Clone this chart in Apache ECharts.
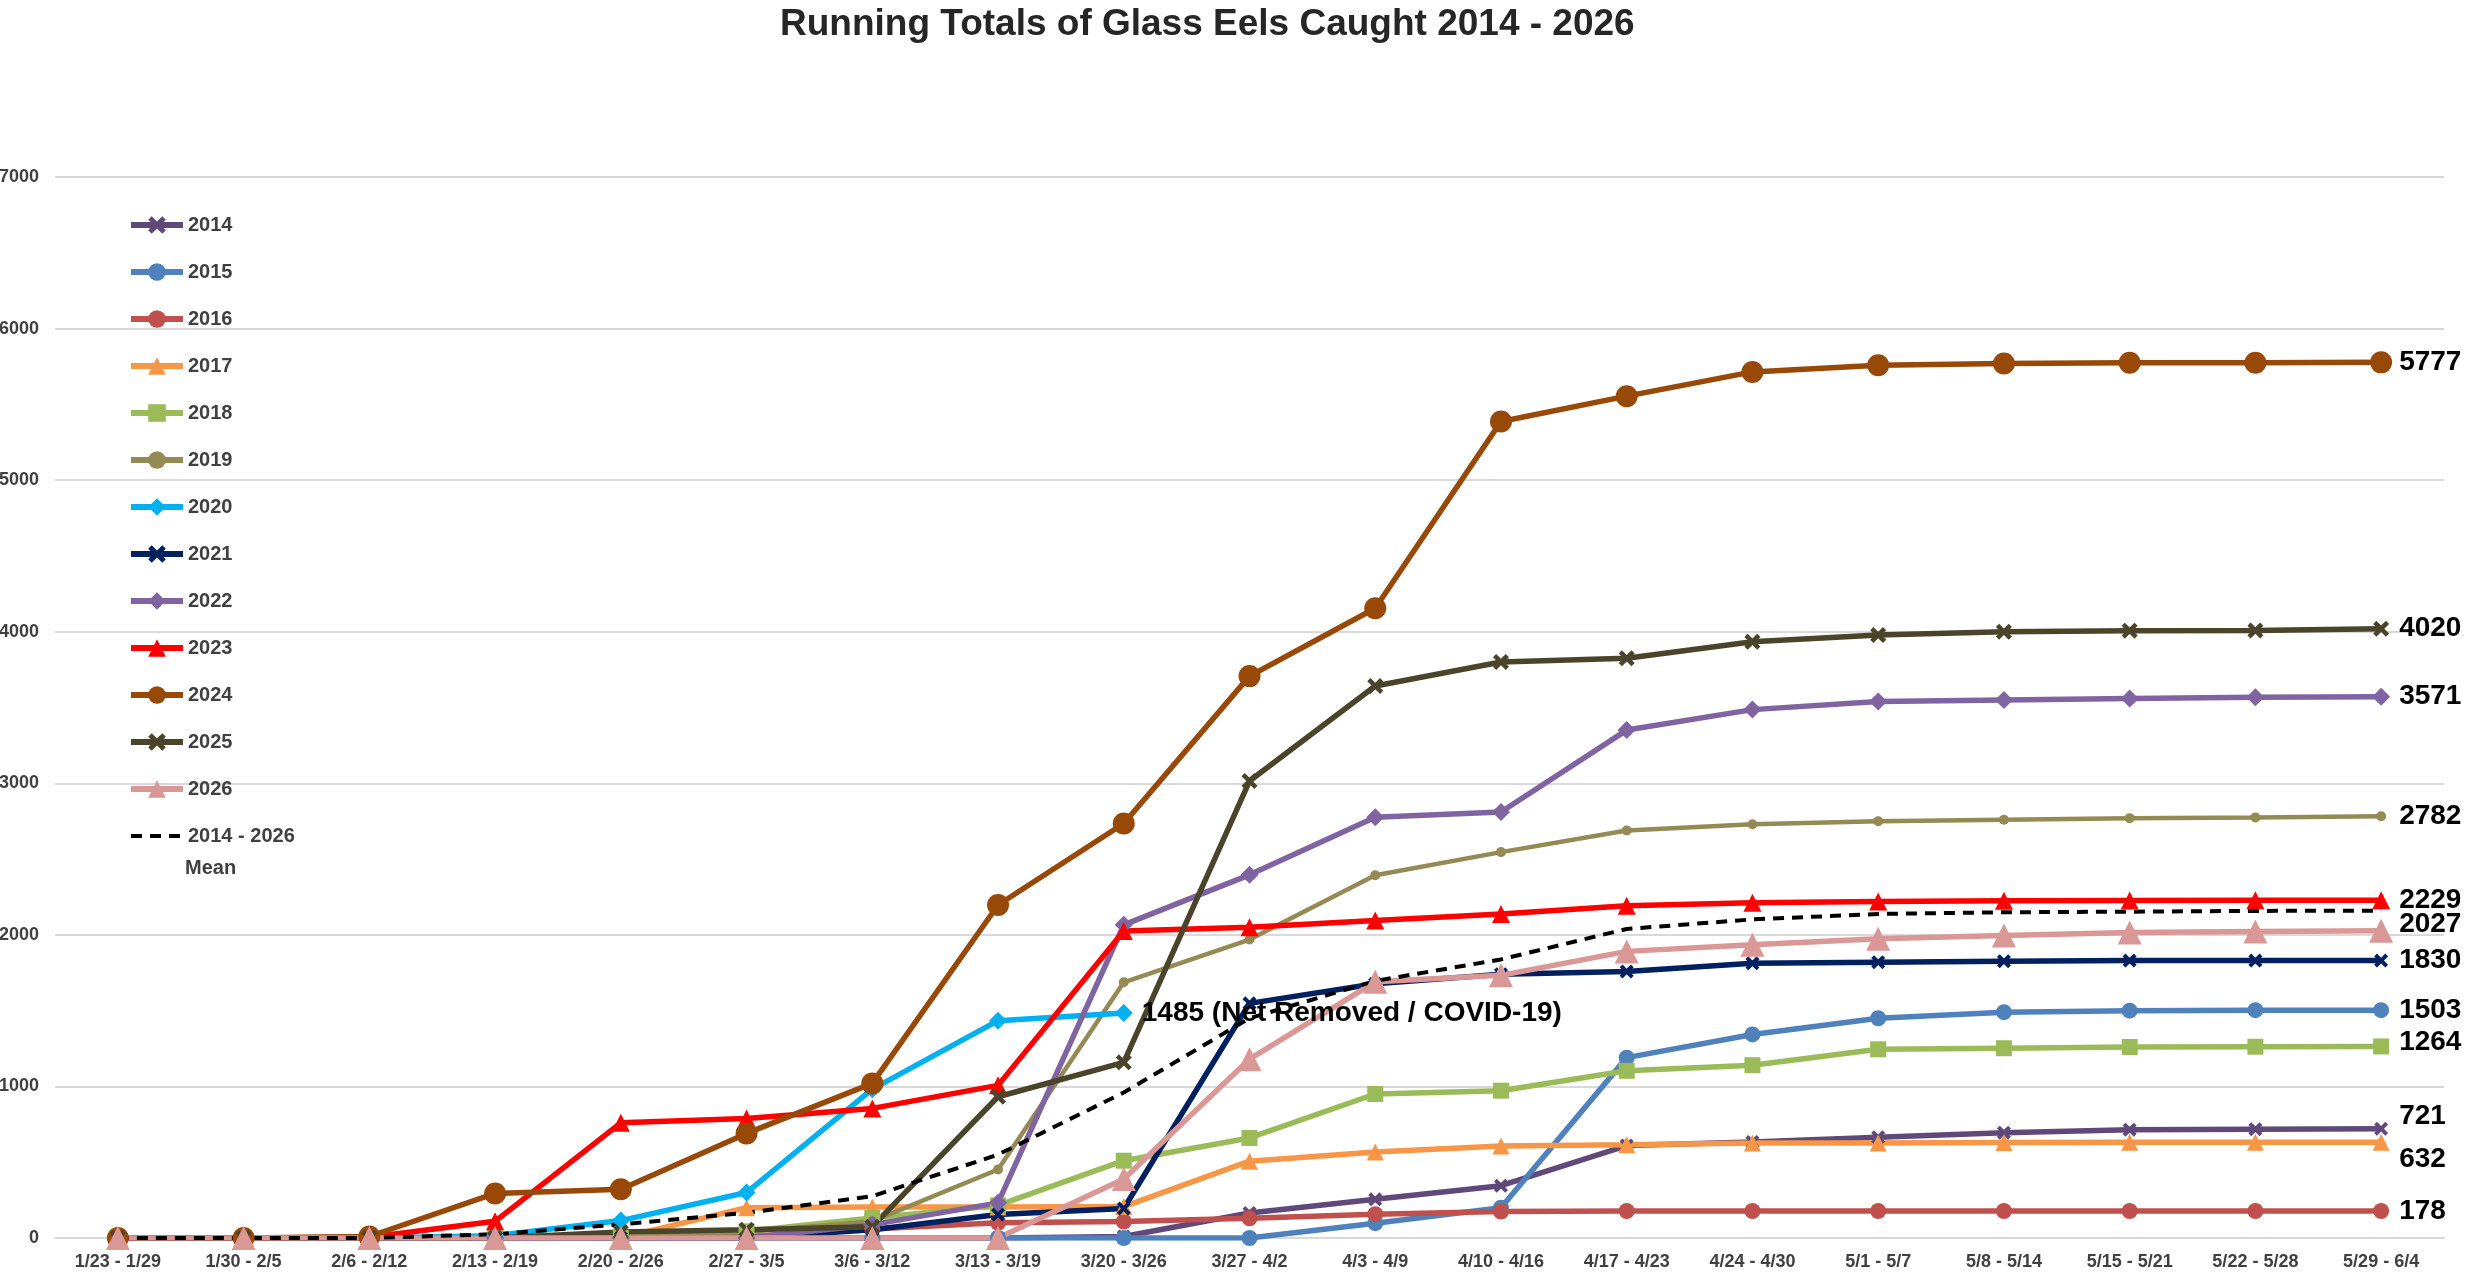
<!DOCTYPE html>
<html>
<head>
<meta charset="utf-8">
<title>Running Totals of Glass Eels Caught 2014 - 2026</title>
<script src="https://cdn.jsdelivr.net/npm/echarts@6/dist/echarts.min.js"></script>
<style>
    html, body { margin: 0; padding: 0; background: #ffffff; }
    #chart { width: 2490px; height: 1279px; }
</style>
</head>
<body>
<div id="chart"></div>
<script>
// weekly periods on the x axis
const weeks = ['1/23 - 1/29', '1/30 - 2/5', '2/6 - 2/12', '2/13 - 2/19', '2/20 - 2/26', '2/27 - 3/5',
    '3/6 - 3/12', '3/13 - 3/19', '3/20 - 3/26', '3/27 - 4/2', '4/3 - 4/9', '4/10 - 4/16', '4/17 - 4/23',
    '4/24 - 4/30', '5/1 - 5/7', '5/8 - 5/14', '5/15 - 5/21', '5/22 - 5/28', '5/29 - 6/4']

// running totals
const y2014 = [0, 0, 0, 0, 0, 0, 0, 0, 10, 165, 255, 345, 610, 633, 665, 695, 715, 718, 721]
const y2015 = [0, 0, 0, 0, 0, 0, 0, 0, 0, 0, 98, 200, 1190, 1343, 1450, 1490, 1500, 1503, 1503]
const y2016 = [0, 0, 0, 0, 0, 10, 60, 100, 109, 130, 157, 175, 178, 178, 178, 178, 178, 178, 178]
const y2017 = [0, 0, 0, 0, 0, 200, 205, 205, 207, 507, 568, 607, 616, 627, 627, 630, 632, 632, 632]
const y2018 = [0, 0, 0, 0, 0, 44, 132, 215, 510, 660, 950, 972, 1103, 1140, 1245, 1252, 1260, 1262, 1264]
const y2019 = [0, 0, 0, 0, 0, 40, 110, 452, 1687, 1969, 2393, 2546, 2689, 2730, 2750, 2760, 2770, 2775, 2782]
const y2020 = [0, 0, 0, 15, 115, 300, 982, 1434, 1485]
const y2021 = [0, 0, 0, 0, 0, 0, 55, 155, 195, 1548, 1677, 1740, 1758, 1812, 1820, 1826, 1830, 1830, 1830]
const y2022 = [0, 0, 0, 0, 0, 0, 88, 232, 2066, 2396, 2776, 2811, 3351, 3486, 3540, 3550, 3560, 3568, 3571]
const y2023 = [0, 0, 5, 110, 760, 789, 855, 1007, 2025, 2050, 2094, 2138, 2192, 2212, 2220, 2225, 2227, 2228, 2229]
const y2024 = [0, 0, 10, 294, 322, 690, 1020, 2197, 2735, 3707, 4155, 5387, 5554, 5714, 5758, 5769, 5774, 5775, 5777]
const y2025 = [0, 0, 0, 0, 40, 55, 75, 932, 1159, 3015, 3642, 3800, 3825, 3934, 3978, 4000, 4007, 4008, 4020]
const y2026 = [0, 0, 0, 0, 0, 0, 0, 0, 390, 1180, 1690, 1733, 1891, 1935, 1974, 1996, 2015, 2022, 2027]
const yMean = [0, 0, 0, 25, 90, 166, 276, 550, 960, 1450, 1696, 1838, 2039, 2102, 2138, 2149, 2153, 2158, 2160]

// y axis ticks
const yTicks = [0, 1000, 2000, 3000, 4000, 5000, 6000, 7000]

const font = '"Liberation Sans", Arial, sans-serif'
const cross = 'path://M0,2L2,0L5,3L8,0L10,2L7,5L10,8L8,10L5,7L2,10L0,8L3,5Z'

function line(name, data, color, symbol, size, labelOffset) {
    return {
        name: name,
        type: 'line',
        data: data,
        symbol: symbol,
        symbolSize: size,
        showAllSymbol: true,
        lineStyle: { color: color, width: 5.5 },
        itemStyle: { color: color },
        emphasis: { disabled: true },
        endLabel: {
            show: true,
            distance: 18,
            offset: labelOffset || [0, 0],
            fontFamily: font,
            fontWeight: 'bold',
            fontSize: 28,
            color: '#000000',
            formatter: (p) => String(p.value)
        }
    }
}

const series = [
    line('2014', y2014, '#60497A', cross, 14, [0, -12]),
    line('2015', y2015, '#4F81BD', 'circle', 16),
    line('2016', y2016, '#C0504D', 'circle', 16),
    line('2017', y2017, '#F79646', 'triangle', 17, [0, 17]),
    line('2018', y2018, '#9BBB59', 'rect', 16, [0, -4]),
    line('2019', y2019, '#948A54', 'circle', 10),
    line('2020', y2020, '#00B0F0', 'diamond', 18),
    line('2021', y2021, '#002060', cross, 14),
    line('2022', y2022, '#8064A2', 'diamond', 18),
    line('2023', y2023, '#FF0000', 'triangle', 18),
    line('2024', y2024, '#984807', 'circle', 22),
    line('2025', y2025, '#4A452A', cross, 16),
    line('2026', y2026, '#D99795', 'triangle', 24, [0, -6]),
    {
        name: '2014 - 2026 Mean',
        type: 'line',
        data: yMean,
        symbol: 'none',
        lineStyle: { color: '#000000', width: 4, type: [11, 8] },
        itemStyle: { color: '#000000' },
        emphasis: { disabled: true }
    }
]
series[5].lineStyle.width = 4.5
// 2020 stops early, its end label carries the note
series[6].endLabel.formatter = (p) => p.value + ' (Net Removed / COVID-19)'

// legend entries: thick line for the years, plain dashes for the mean
const legendData = series.map(s => {
    if (s.name === '2014 - 2026 Mean') {
        return { name: s.name, itemStyle: { color: 'rgba(0,0,0,0)', borderWidth: 0 }, lineStyle: { width: 4 } }
    }
    return { name: s.name }
})

const chart = echarts.init(document.getElementById('chart'))
chart.setOption({
    animation: false,
    backgroundColor: '#ffffff',
    title: {
        text: 'Running Totals of Glass Eels Caught 2014 - 2026',
        left: 780,
        top: 5,
        padding: 0,
        textStyle: { fontFamily: font, fontWeight: 'bold', fontSize: 37, lineHeight: 40, color: '#262626' }
    },
    legend: {
        orient: 'vertical',
        left: 128,
        top: 214,
        padding: 0,
        itemWidth: 52,
        itemHeight: 22,
        itemGap: 25,
        data: legendData,
        lineStyle: { width: 6 },
        formatter: (name) => name === '2014 - 2026 Mean' ? '2014 - 2026' : name,
        textStyle: { fontFamily: font, fontWeight: 'bold', fontSize: 20, lineHeight: 22, color: '#404040' }
    },
    graphic: [{
        type: 'text',
        left: 185,
        top: 858,
        style: { text: 'Mean', font: 'bold 20px ' + font, fill: '#404040' }
    }],
    grid: {
        left: 55,
        right: 46,
        top: 177,
        bottom: 41,
        outerBoundsMode: 'none'
    },
    xAxis: {
        type: 'category',
        data: weeks,
        boundaryGap: true,
        axisTick: { show: false },
        axisLine: { lineStyle: { color: '#d9d9d9', width: 2 } },
        axisLabel: { interval: 0, margin: 15, fontFamily: font, fontWeight: 'bold', fontSize: 18, color: '#404040' }
    },
    yAxis: {
        type: 'value',
        min: yTicks[0],
        max: yTicks[yTicks.length - 1],
        interval: 1000,
        axisLine: { show: false },
        axisTick: { show: false },
        splitLine: { lineStyle: { color: '#d9d9d9', width: 2 } },
        axisLabel: {
            margin: 16, fontFamily: font, fontWeight: 'bold', fontSize: 18, color: '#404040',
            formatter: (v) => String(v)
        }
    },
    series: series
})
</script>
</body>
</html>
